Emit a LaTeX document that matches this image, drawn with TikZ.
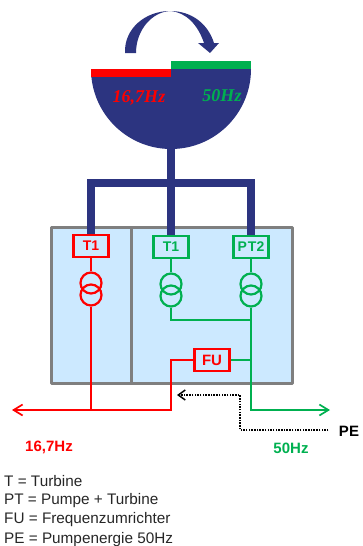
\documentclass[tikz,border=0pt]{standalone}
\usepackage{fontspec}
\setmainfont{Liberation Sans}
\newfontfamily\bowlfont{Liberation Serif}
\usetikzlibrary{arrows.meta}
\definecolor{navy}{HTML}{2C3480}
\definecolor{grn}{HTML}{00B050}
\definecolor{lightbl}{HTML}{CCE9FF}
\definecolor{hall}{HTML}{7F7F7F}
\newcommand\lab[1]{\fontsize{#1}{#1}\selectfont}

\begin{document}
\begin{tikzpicture}[x=1pt, y=-1pt,
	main/.style = {draw, line width=2.6pt, fill=lightbl, minimum width=35pt, minimum height=22pt, inner sep=0pt, font=\lab{14}\bfseries},
	trafo/.style = {draw, circle, line width=2.2pt, minimum size=21pt, inner sep=0pt},
	wire/.style = {line width=1.7pt},
	bus/.style = {draw=navy, line width=7.5pt, line cap=butt, line join=miter},
	tag/.style = {font=\lab{15}\bfseries},
	hz/.style = {font=\lab{18}\bowlfont\bfseries\itshape},
	legend/.style = {anchor=west, inner xsep=0pt, text=black!85, font=\lab{15.3}}]
	\useasboundingbox (0, 0) rectangle (362, 546);
	% rotating bowl
	\fill[navy] (91, 69) -- (251, 69) arc[start angle=0, end angle=180, radius=80] -- cycle;
	\fill[red] (91, 69) rectangle (171, 77);
	\fill[grn] (171, 61) rectangle (251, 69);
	\fill[navy] (125, 53) .. controls (124, 28) and (146, 11) .. (170, 11) .. controls (192, 11) and (208, 24) .. (214, 43) -- (219, 43) -- (210, 53) -- (198, 43) -- (204, 43) .. controls (198, 25) and (186, 12) .. (170, 11) .. controls (152, 12) and (136, 30) .. (136, 53) -- cycle;
	\node[hz, text=red] (hzr) at (139, 98){16,7Hz};
	\node[hz, text=grn] (hzg) at (222, 96){50Hz};
	% hall
	\draw[hall, line width=3pt, fill=lightbl, line join=round] (51, 227) rectangle (292, 383);
	\draw[hall, line width=3pt] (131, 227) -- (131, 383);
	\coordinate (shaft) at (171, 146);
	\coordinate (busl) at (91, 183);
	\coordinate (busm) at (171, 183);
	\coordinate (busr) at (251, 183);
	\node[main, draw=red, text=red] (A) at (91, 246){T1};
	\node[main, draw=grn, text=grn] (B) at (171, 247){T1};
	\node[main, draw=grn, text=grn] (C) at (251, 247){P\kern1ptT2};
	\node[main, draw=red, text=red, font=\lab{15}\bfseries] (FU) at (212, 360){FU};
	\draw[bus] (A.north) -- (busl) -- (busr) -- (C.north);
	\draw[bus] (shaft) -- (B.north);
	% transformers
	\node[trafo, draw=red] (A1) at (91, 283){};
	\node[trafo, draw=red] (A2) at (91, 295){};
	\node[trafo, draw=grn] (B1) at (171, 284){};
	\node[trafo, draw=grn] (B2) at (171, 296){};
	\node[trafo, draw=grn] (C1) at (251, 284){};
	\node[trafo, draw=grn] (C2) at (251, 296){};
	% wires
	\coordinate (redl) at (12, 410);
	\coordinate (redm) at (91, 410);
	\coordinate (redr) at (171, 410);
	\coordinate (redf) at (171, 360);
	\coordinate (grnj) at (251, 320);
	\coordinate (grnf) at (251, 360);
	\coordinate (grnb) at (251, 410);
	\coordinate (grne) at (330, 410);
	\draw[wire, red] (A.south) -- (A1.north);
	\draw[wire, red] (A2.south) -- (redm);
	\draw[wire, red, -{Straight Barb[length=9pt, width=11pt]}] (FU.west) -- (redf) -- (redr) -- (redl);
	\draw[wire, grn] (B.south) -- (B1.north);
	\draw[wire, grn] (C.south) -- (C1.north);
	\draw[wire, grn] (B2.south) |- (grnj);
	\draw[wire, grn] (FU.east) -- (grnf);
	\draw[wire, grn, -{Straight Barb[length=9pt, width=11pt]}] (C2.south) -- (grnb) -- (grne);
	% pump energy
	\node[tag, text=black] (PE) at (349, 431){PE};
	\coordinate (pea) at (240, 430);
	\coordinate (peb) at (240, 395);
	\coordinate (pec) at (177, 395);
	\draw[line width=1.5pt, dash pattern=on 1.5pt off 1.2pt, -{Straight Barb[length=7pt, width=10pt]}] (PE.west) ++(-7, -1) -- (pea) -- (peb) -- (pec);
	% labels
	\node[tag, text=red] (L1) at (49, 447){16,7Hz};
	\node[tag, text=grn] (L2) at (291, 448){50Hz};
	\node[legend] (T1) at (4, 481){T = Turbine};
	\node[legend] (T2) at (4, 500.5){PT = Pumpe + Turbine};
	\node[legend] (T3) at (4, 520){FU = Frequenzumrichter};
	\node[legend] (T4) at (4, 540){PE = Pumpenergie 50Hz};
\end{tikzpicture}
\end{document}
